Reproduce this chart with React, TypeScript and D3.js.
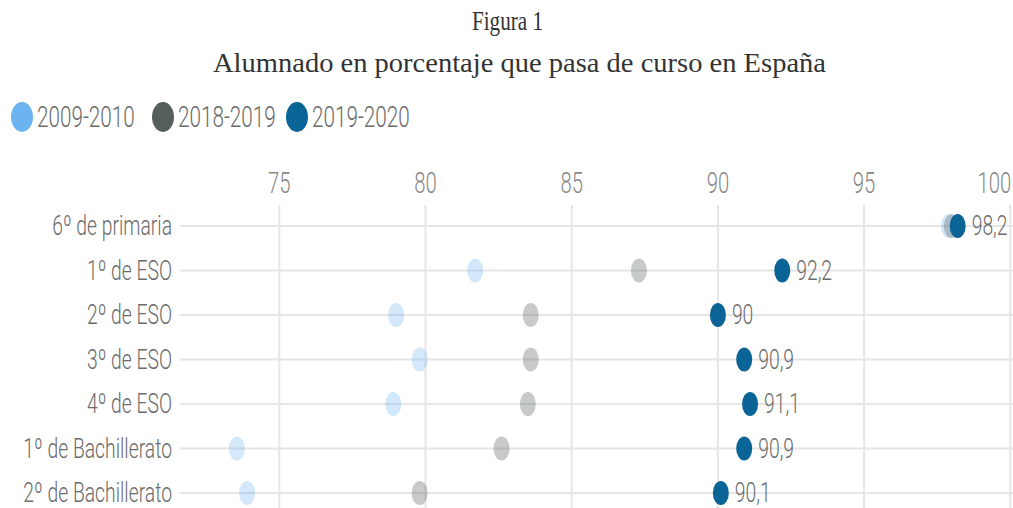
import React from 'react';
import * as d3 from 'd3';

const categories = [
  '6º de primaria',
  '1º de ESO',
  '2º de ESO',
  '3º de ESO',
  '4º de ESO',
  '1º de Bachillerato',
  '2º de Bachillerato',
];
const seriesNames = ['2009-2010', '2018-2019', '2019-2020'];
const values2009 = [97.9, 81.7, 79.0, 79.8, 78.9, 73.55, 73.9];
const values2018 = [98.0, 87.3, 83.6, 83.6, 83.5, 82.6, 79.8];
const values2019 = [98.2, 92.2, 90, 90.9, 91.1, 90.9, 90.1];
const xTicks = [75, 80, 85, 90, 95, 100];

const legendColors = ['#6cb4f0', '#555e5c', '#0a6496'];
const dotOpacity = [0.3, 0.33, 1];

const W = 1013;
const H = 508;
const font = 'Roboto, "Liberation Sans", sans-serif';
const serif = '"Liberation Serif", "Times New Roman", serif';
const textColor = '#6b6b6b';

// condensed text: draw normal font then squeeze horizontally
function CText({ x, y, anchor = 'start', size, sx = 0.68, fill = textColor, children }: any) {
  return (
    <text
      transform={`translate(${x},${y}) scale(${sx},1)`}
      textAnchor={anchor}
      dominantBaseline="central"
      fontFamily={font}
      fontWeight={300}
      fontSize={size}
      fill={fill}
    >
      {children}
    </text>
  );
}

export default function App() {
  const x = d3.scaleLinear().domain([75, 100]).range([279.3, 1010.3]);
  const y = d3.scalePoint<string>().domain(categories).range([226, 493]);
  const series = [values2009, values2018, values2019];
  const fmt = (v: number) => String(v).replace('.', ',');

  return (
    <svg width={W} height={H} style={{ position: 'absolute', left: 0, top: 0, background: '#fff' }}>
      {/* title */}
      <text x={507.5} y={30} textAnchor="middle" fontFamily={serif} fontSize={28} fill="#333"
        textLength={71} lengthAdjust="spacingAndGlyphs">
        Figura 1
      </text>
      <text x={519.5} y={72} textAnchor="middle" fontFamily={serif} fontSize={28} fill="#333"
        textLength={613} lengthAdjust="spacingAndGlyphs">
        Alumnado en porcentaje que pasa de curso en España
      </text>

      {/* legend */}
      {seriesNames.map((s, i) => {
        const lx = [22, 163, 297][i];
        return (
          <g key={s}>
            <ellipse cx={lx} cy={117} rx={11} ry={15} fill={legendColors[i]} />
            <CText x={lx + 15} y={117} size={30} sx={0.69}>{s}</CText>
          </g>
        );
      })}

      {/* grid */}
      {xTicks.map((t) => (
        <g key={t}>
          <line x1={x(t)} x2={x(t)} y1={205} y2={H} stroke="#e6e6e6" strokeWidth={2} />
          <CText x={t === 100 ? x(t) - 16 : x(t)} y={183} anchor="middle" size={29} sx={0.7} fill="#888">{t}</CText>
        </g>
      ))}
      {categories.map((c) => (
        <g key={c}>
          <line x1={180} x2={W} y1={y(c)} y2={y(c)} stroke="#e6e6e6" strokeWidth={2} />
          <CText x={172} y={y(c)} anchor="end" size={28} sx={0.69}>{c}</CText>
        </g>
      ))}

      {/* dots */}
      {series.map((vals, si) =>
        vals.map((v, i) => (
          <ellipse
            key={`${si}-${i}`}
            cx={x(v)}
            cy={y(categories[i])!}
            rx={8}
            ry={12}
            fill={legendColors[si]}
            fillOpacity={dotOpacity[si]}
          />
        ))
      )}

      {/* value labels */}
      {values2019.map((v, i) => (
        <CText key={i} x={x(v) + 14} y={y(categories[i])!} size={28} sx={0.69}>{fmt(v)}</CText>
      ))}
    </svg>
  );
}
